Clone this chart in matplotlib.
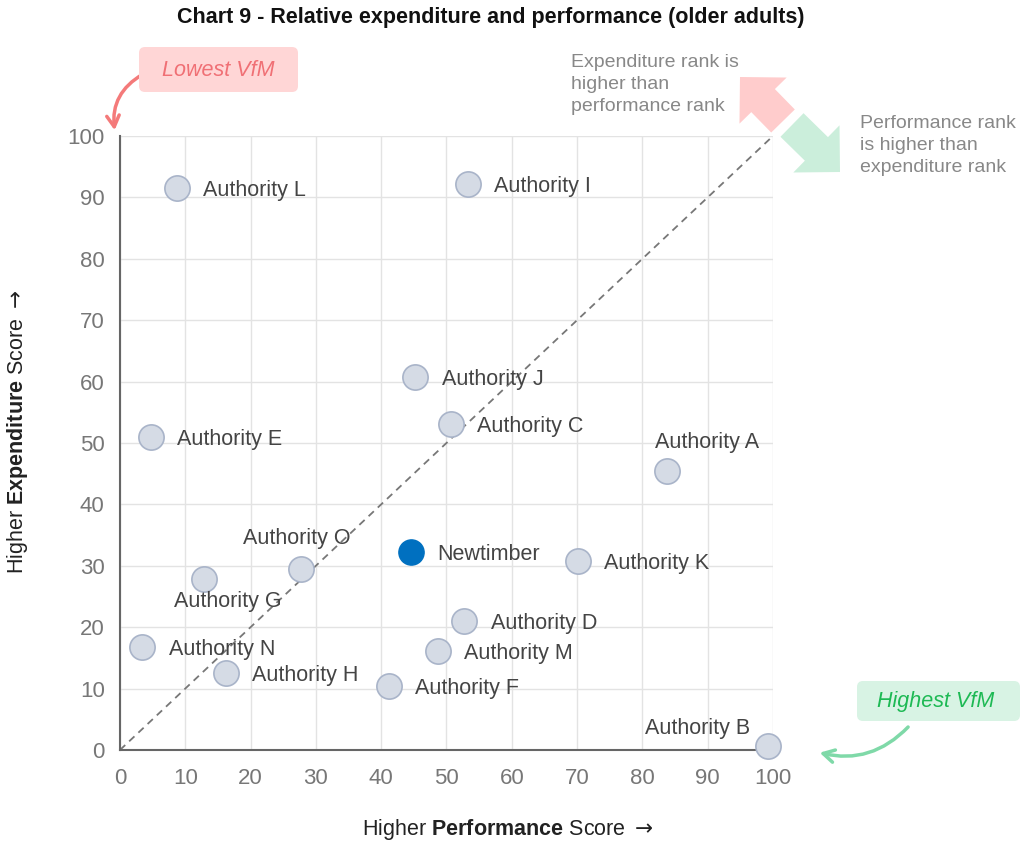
import matplotlib
matplotlib.use("Agg")
import matplotlib.pyplot as plt
from matplotlib.patches import FancyBboxPatch, FancyArrow
from matplotlib.transforms import IdentityTransform

plt.rcParams["font.family"] = ["Liberation Sans", "DejaVu Sans"]
plt.rcParams["mathtext.fontset"] = "custom"
plt.rcParams["mathtext.rm"] = "Liberation Sans"
plt.rcParams["mathtext.bf"] = "Liberation Sans:bold"
plt.rcParams["mathtext.sf"] = "DejaVu Sans"

# performance score (x), expenditure score (y)
names = ["Authority L", "Authority I", "Authority J", "Authority C", "Authority E",
         "Authority A", "Authority K", "Authority O", "Authority G", "Authority D",
         "Authority N", "Authority M", "Authority H", "Authority F", "Authority B"]
perf = [8.7, 53.3, 45.2, 50.7, 4.7, 83.8, 70.1, 27.7, 12.9, 52.7, 3.4, 48.7, 16.2, 41.2, 99.2]
expend = [91.5, 92.2, 60.7, 53.1, 51.0, 45.4, 30.8, 29.5, 27.9, 21.0, 16.8, 16.1, 12.5, 10.4, 0.7]
home_name = "Newtimber"
home_perf = 44.6
home_expend = 32.2

# label placement: offset in points and alignment
label_pos = {
    "Authority A": (29, 13, "center", "bottom"),
    "Authority B": (-13, 5, "right", "bottom"),
    "Authority O": (-3, 14, "center", "bottom"),
    "Authority G": (17, -9, "center", "top"),
}

fig = plt.figure(figsize=(10.21, 8.44), dpi=100)
ax = fig.add_axes([0.1175, 0.1114, 0.6396, 0.7275])

ax.plot([0, 100], [0, 100], ls=(0, (4, 3)), color="#777777", lw=1.3, zorder=1)
ax.scatter(perf, expend, s=330, color="#d5dbe5", edgecolor="#a9b4c9", linewidth=1.2,
           zorder=3, clip_on=False)
ax.scatter([home_perf], [home_expend], s=330, color="#0070c0", edgecolor="#0070c0", zorder=4)

for n, x, y in zip(names, perf, expend):
    dx, dy, ha, va = label_pos.get(n, (19, 0, "left", "center_baseline"))
    ax.annotate(n, (x, y), xytext=(dx, dy), textcoords="offset points",
                ha=ha, va=va, fontsize=15.5, color="#444444", zorder=5)
ax.annotate(home_name, (home_perf, home_expend), xytext=(19, 0), textcoords="offset points",
            ha="left", va="center_baseline", fontsize=15.5, color="#444444", zorder=5)

ax.set_xlim(0, 100)
ax.set_ylim(0, 100)
ax.set_xticks(range(0, 101, 10))
ax.set_yticks(range(0, 101, 10))
ax.grid(True, color="#e3e3e3", lw=1)
ax.set_axisbelow(True)
for s in ["top", "right"]:
    ax.spines[s].set_visible(False)
for s in ["left", "bottom"]:
    ax.spines[s].set_color("#666666")
    ax.spines[s].set_linewidth(1.5)
ax.tick_params(length=0, labelsize=16, labelcolor="#777777", pad=11)
ax.tick_params(axis="x", pad=13)
for t in ax.get_xticklabels() + ax.get_yticklabels():
    t.set_clip_on(False)

fig.text(508 / 1021, 1 - 829 / 844, r"Higher $\bf{Performance}$ Score$\;\mathsf{\rightarrow}$",
         ha="center", va="center", fontsize=15.5, color="#222222")
fig.text(18 / 1021, 1 - 432 / 844, r"Higher $\bf{Expenditure}$ Score$\;\mathsf{\rightarrow}$",
         rotation=90, ha="center", va="center", fontsize=15.5, color="#222222")

fig.text(491 / 1021, 1 - 17 / 844, "Chart 9 - Relative expenditure and performance (older adults)",
         ha="center", va="center", fontsize=15.5, fontweight="bold", color="#111111")

# Lowest / Highest VfM boxes
fig.patches.append(FancyBboxPatch((139, 844 - 92), 159, 45, boxstyle="round,pad=0,rounding_size=6",
                                  transform=IdentityTransform(), facecolor="#ffd6d6",
                                  edgecolor="none", figure=fig))
fig.text(218 / 1021, 1 - 70 / 844, "Lowest VfM", ha="center", va="center",
         fontsize=15.5, style="italic", color="#f07075")
fig.patches.append(FancyBboxPatch((857, 844 - 721), 163, 40, boxstyle="round,pad=0,rounding_size=6",
                                  transform=IdentityTransform(), facecolor="#d8f3e4",
                                  edgecolor="none", figure=fig))
fig.text(936 / 1021, 1 - 701 / 844, "Highest VfM", ha="center", va="center",
         fontsize=15.5, style="italic", color="#1db954")

ax.annotate("", xy=(115, 844 - 133), xytext=(145, 844 - 73), xycoords="figure pixels",
            textcoords="figure pixels",
            arrowprops=dict(arrowstyle="->,head_length=0.8,head_width=0.45", color="#f47a7a", lw=2.5,
                            connectionstyle="arc3,rad=0.35"))
ax.annotate("", xy=(817, 844 - 752), xytext=(910, 844 - 725), xycoords="figure pixels",
            textcoords="figure pixels",
            arrowprops=dict(arrowstyle="->,head_length=0.8,head_width=0.45", color="#7fd9a8", lw=2.5,
                            connectionstyle="arc3,rad=-0.3"))

# big direction arrows (figure pixels)
fig.patches.append(FancyArrow(783, 844 - 121, -43, 44, width=33, head_width=66, head_length=33,
                              length_includes_head=True, transform=IdentityTransform(),
                              facecolor="#ffcccc", edgecolor="none", figure=fig))
fig.patches.append(FancyArrow(792, 844 - 125, 48, -47, width=33, head_width=66, head_length=33,
                              length_includes_head=True, transform=IdentityTransform(),
                              facecolor="#cbeedb", edgecolor="none", figure=fig))

fig.text(571 / 1021, 1 - 54 / 844, "Expenditure rank is\nhigher than\nperformance rank",
         ha="left", va="top", fontsize=14, color="#888888", linespacing=1.38)
fig.text(860 / 1021, 1 - 115 / 844, "Performance rank\nis higher than\nexpenditure rank",
         ha="left", va="top", fontsize=14, color="#888888", linespacing=1.38)

fig.savefig("out.png", dpi=100)
